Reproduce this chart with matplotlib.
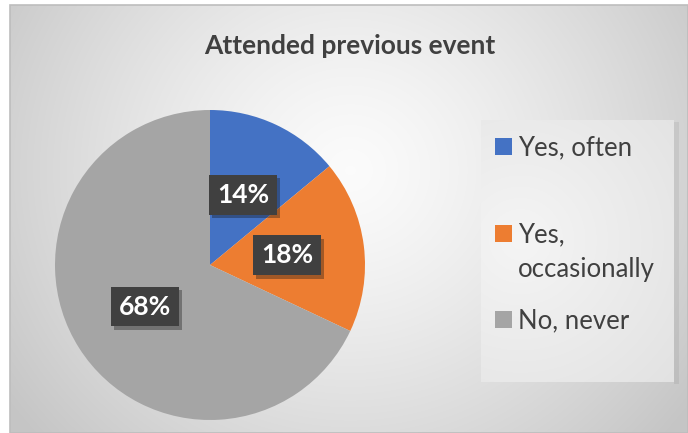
import numpy as np
import matplotlib.pyplot as plt
from matplotlib.patches import Rectangle
import matplotlib.patheffects as pe

plt.rcParams['font.family'] = ['Lato', 'DejaVu Sans']

title = 'Attended previous event'
labels = ['Yes, often', 'Yes,\noccasionally', 'No, never']
values = [14, 18, 68]
colors = ['#4472C4', '#ED7D31', '#A5A5A5']

W, H = 688, 433
fig = plt.figure(figsize=(W / 100, H / 100), dpi=100)

# background: white strip left/top, then chart area with a radial gradient
bg = fig.add_axes([0, 0, 1, 1], zorder=-10)
bg.axis('off')
yy, xx = np.mgrid[0:H, 0:W]
d = np.sqrt((xx - 350) ** 2 + ((yy - 170) / 0.95) ** 2)
d = np.clip(d / 420, 0, 1)
shade = 0.985 - 0.21 * d ** 1.3
img = np.dstack([shade, shade, shade])
img[:, :10] = 1
img[:5, :] = 1
bg.imshow(img, extent=(0, W, H, 0), interpolation='bilinear', aspect='auto')
bg.add_patch(Rectangle((10, 5), W - 10, H - 5, fill=False, ec='#bdbdbd', lw=1.2))

# legend panel
yl, yh = np.mgrid[120:382, 481:674]
dl = np.sqrt((yh - 520) ** 2 + (yl - 240) ** 2) / 200
pshade = 0.96 - 0.07 * np.clip(dl, 0, 1)
bg.imshow(np.dstack([pshade] * 3), extent=(481, 674, 382, 120), aspect='auto',
          interpolation='bilinear', zorder=2)
bg.add_patch(Rectangle((674, 122), 5, 262, fc='#000000', alpha=0.06, lw=0, zorder=2))
bg.set_xlim(0, W)
bg.set_ylim(H, 0)

# pie
cx, cy, r = 210, 265, 155
ax = fig.add_axes([(cx - r) / W, (H - cy - r) / H, 2 * r / W, 2 * r / H])
wedges, _, autotexts = ax.pie(values, colors=colors, startangle=90, counterclock=False,
                              radius=1, autopct='%d%%', pctdistance=0.5,
                              wedgeprops=dict(linewidth=0),
                              textprops=dict(color='white', fontsize=19, fontweight='bold'))
ax.set_xlim(-1, 1)
ax.set_ylim(-1, 1)
for t in autotexts:
    t.set_bbox(dict(boxstyle='square,pad=0.3', fc='#404040', lw=0))
    t.get_bbox_patch().set_path_effects([pe.withSimplePatchShadow(offset=(2.5, -2.5), alpha=0.35)])

fig.text(350 / W, 1 - 46 / H, title, ha='center', va='center', fontsize=19,
         fontweight='bold', color='#404040')

# legend
baselines = [155, 242, 328]
for lab, col, b in zip(labels, colors, baselines):
    bg.add_patch(Rectangle((495, b - 17), 17, 17, fc=col, lw=0, zorder=3))
    for i, line in enumerate(lab.split('\n')):
        bg.text(518, b + i * 35, line, va='baseline', ha='left', fontsize=18.5,
                color='#404040', zorder=3)

fig.savefig('out.png', dpi=100)
